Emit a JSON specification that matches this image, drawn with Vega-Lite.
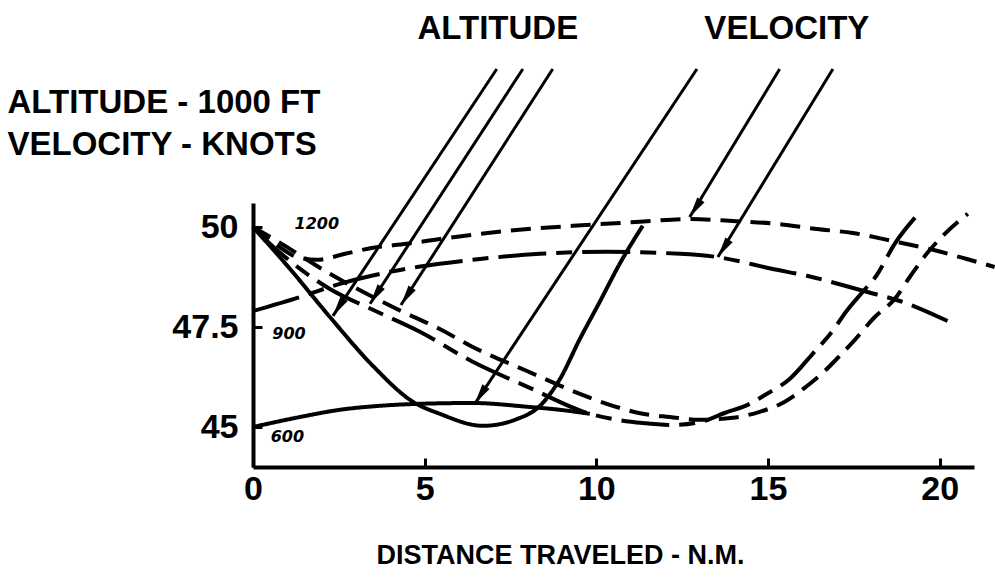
{
  "$schema": "https://vega.github.io/schema/vega-lite/v6.json",
  "width": 721,
  "height": 264,
  "autosize": {"type": "none"},
  "padding": {"left": 253, "top": 203, "right": 21, "bottom": 120},
  "background": "white",
  "config": {"view": {"stroke": null}},
  "datasets": {
    "curves": [
      {"curve": "altitude 600", "trajectory": "600", "x": 0, "y": 50},
      {"curve": "altitude 600", "trajectory": "600", "x": 1.08, "y": 48.95},
      {"curve": "altitude 600", "trajectory": "600", "x": 2.24, "y": 47.75},
      {"curve": "altitude 600", "trajectory": "600", "x": 3.49, "y": 46.53},
      {"curve": "altitude 600", "trajectory": "600", "x": 4.66, "y": 45.63},
      {"curve": "altitude 600", "trajectory": "600", "x": 5.44, "y": 45.33},
      {"curve": "altitude 600", "trajectory": "600", "x": 6.7, "y": 45.03},
      {"curve": "altitude 600", "trajectory": "600", "x": 7.69, "y": 45.2},
      {"curve": "altitude 600", "trajectory": "600", "x": 8.36, "y": 45.53},
      {"curve": "altitude 600", "trajectory": "600", "x": 8.94, "y": 46.2},
      {"curve": "altitude 600", "trajectory": "600", "x": 9.52, "y": 47.2},
      {"curve": "altitude 600", "trajectory": "600", "x": 10.1, "y": 48.13},
      {"curve": "altitude 600", "trajectory": "600", "x": 10.68, "y": 49.08},
      {"curve": "altitude 600", "trajectory": "600", "x": 11.35, "y": 50.03},

      {"curve": "velocity 600", "trajectory": "600", "x": 0, "y": 45.0},
      {"curve": "velocity 600", "trajectory": "600", "x": 1.37, "y": 45.25},
      {"curve": "velocity 600", "trajectory": "600", "x": 2.53, "y": 45.43},
      {"curve": "velocity 600", "trajectory": "600", "x": 3.7, "y": 45.53},
      {"curve": "velocity 600", "trajectory": "600", "x": 4.86, "y": 45.58},
      {"curve": "velocity 600", "trajectory": "600", "x": 6.4, "y": 45.6},
      {"curve": "velocity 600", "trajectory": "600", "x": 8.06, "y": 45.5},
      {"curve": "velocity 600", "trajectory": "600", "x": 8.94, "y": 45.43},
      {"curve": "velocity 600", "trajectory": "600", "x": 9.81, "y": 45.33},

      {"curve": "velocity 900", "trajectory": "900", "x": 0, "y": 47.9},
      {"curve": "velocity 900", "trajectory": "900", "x": 1.37, "y": 48.25},
      {"curve": "velocity 900", "trajectory": "900", "x": 2.53, "y": 48.58},
      {"curve": "velocity 900", "trajectory": "900", "x": 3.99, "y": 48.88},
      {"curve": "velocity 900", "trajectory": "900", "x": 5.44, "y": 49.08},
      {"curve": "velocity 900", "trajectory": "900", "x": 6.61, "y": 49.2},
      {"curve": "velocity 900", "trajectory": "900", "x": 8.36, "y": 49.33},
      {"curve": "velocity 900", "trajectory": "900", "x": 10.31, "y": 49.38},
      {"curve": "velocity 900", "trajectory": "900", "x": 12.43, "y": 49.33},
      {"curve": "velocity 900", "trajectory": "900", "x": 13.51, "y": 49.25},
      {"curve": "velocity 900", "trajectory": "900", "x": 15.14, "y": 48.95},
      {"curve": "velocity 900", "trajectory": "900", "x": 16.13, "y": 48.78},
      {"curve": "velocity 900", "trajectory": "900", "x": 17.87, "y": 48.38},
      {"curve": "velocity 900", "trajectory": "900", "x": 18.84, "y": 48.15},
      {"curve": "velocity 900", "trajectory": "900", "x": 20.23, "y": 47.65},

      {"curve": "velocity 1200", "trajectory": "1200", "x": 0, "y": 50},
      {"curve": "velocity 1200", "trajectory": "1200", "x": 0.64, "y": 49.58},
      {"curve": "velocity 1200", "trajectory": "1200", "x": 1.28, "y": 49.25},
      {"curve": "velocity 1200", "trajectory": "1200", "x": 1.86, "y": 49.18},
      {"curve": "velocity 1200", "trajectory": "1200", "x": 2.68, "y": 49.33},
      {"curve": "velocity 1200", "trajectory": "1200", "x": 3.49, "y": 49.48},
      {"curve": "velocity 1200", "trajectory": "1200", "x": 4.48, "y": 49.58},
      {"curve": "velocity 1200", "trajectory": "1200", "x": 5.44, "y": 49.7},
      {"curve": "velocity 1200", "trajectory": "1200", "x": 7.39, "y": 49.9},
      {"curve": "velocity 1200", "trajectory": "1200", "x": 9.32, "y": 50.03},
      {"curve": "velocity 1200", "trajectory": "1200", "x": 11.27, "y": 50.13},
      {"curve": "velocity 1200", "trajectory": "1200", "x": 12.72, "y": 50.2},
      {"curve": "velocity 1200", "trajectory": "1200", "x": 13.97, "y": 50.15},
      {"curve": "velocity 1200", "trajectory": "1200", "x": 15.25, "y": 50.08},
      {"curve": "velocity 1200", "trajectory": "1200", "x": 16.42, "y": 49.95},
      {"curve": "velocity 1200", "trajectory": "1200", "x": 17.47, "y": 49.85},
      {"curve": "velocity 1200", "trajectory": "1200", "x": 18.63, "y": 49.65},
      {"curve": "velocity 1200", "trajectory": "1200", "x": 19.8, "y": 49.43},
      {"curve": "velocity 1200", "trajectory": "1200", "x": 20.79, "y": 49.2},
      {"curve": "velocity 1200", "trajectory": "1200", "x": 21.6, "y": 49.0},

      {"curve": "altitude 900", "trajectory": "900", "x": 0, "y": 50},
      {"curve": "altitude 900", "trajectory": "900", "x": 0.49, "y": 49.58},
      {"curve": "altitude 900", "trajectory": "900", "x": 1.08, "y": 49.15},
      {"curve": "altitude 900", "trajectory": "900", "x": 2.24, "y": 48.45},
      {"curve": "altitude 900", "trajectory": "900", "x": 3.49, "y": 47.93},
      {"curve": "altitude 900", "trajectory": "900", "x": 4.86, "y": 47.38},
      {"curve": "altitude 900", "trajectory": "900", "x": 6.4, "y": 46.63},
      {"curve": "altitude 900", "trajectory": "900", "x": 8.06, "y": 45.98},
      {"curve": "altitude 900", "trajectory": "900", "x": 9.81, "y": 45.33},
      {"curve": "altitude 900", "trajectory": "900", "x": 10.48, "y": 45.2},
      {"curve": "altitude 900", "trajectory": "900", "x": 11.35, "y": 45.1},
      {"curve": "altitude 900", "trajectory": "900", "x": 12.23, "y": 45.05},
      {"curve": "altitude 900", "trajectory": "900", "x": 13.01, "y": 45.12},
      {"curve": "altitude 900", "trajectory": "900", "x": 13.74, "y": 45.35},
      {"curve": "altitude 900", "trajectory": "900", "x": 14.47, "y": 45.58},
      {"curve": "altitude 900", "trajectory": "900", "x": 14.91, "y": 45.8},
      {"curve": "altitude 900", "trajectory": "900", "x": 15.63, "y": 46.2},
      {"curve": "altitude 900", "trajectory": "900", "x": 16.3, "y": 46.83},
      {"curve": "altitude 900", "trajectory": "900", "x": 16.86, "y": 47.38},
      {"curve": "altitude 900", "trajectory": "900", "x": 17.29, "y": 47.9},
      {"curve": "altitude 900", "trajectory": "900", "x": 17.76, "y": 48.38},
      {"curve": "altitude 900", "trajectory": "900", "x": 18.17, "y": 48.8},
      {"curve": "altitude 900", "trajectory": "900", "x": 18.69, "y": 49.58},
      {"curve": "altitude 900", "trajectory": "900", "x": 19.33, "y": 50.28},

      {"curve": "altitude 1200", "trajectory": "1200", "x": 0, "y": 50},
      {"curve": "altitude 1200", "trajectory": "1200", "x": 0.7, "y": 49.65},
      {"curve": "altitude 1200", "trajectory": "1200", "x": 2.24, "y": 48.83},
      {"curve": "altitude 1200", "trajectory": "1200", "x": 4.19, "y": 47.95},
      {"curve": "altitude 1200", "trajectory": "1200", "x": 5.44, "y": 47.45},
      {"curve": "altitude 1200", "trajectory": "1200", "x": 6.4, "y": 47.0},
      {"curve": "altitude 1200", "trajectory": "1200", "x": 7.98, "y": 46.4},
      {"curve": "altitude 1200", "trajectory": "1200", "x": 9.52, "y": 45.83},
      {"curve": "altitude 1200", "trajectory": "1200", "x": 10.48, "y": 45.53},
      {"curve": "altitude 1200", "trajectory": "1200", "x": 11.35, "y": 45.33},
      {"curve": "altitude 1200", "trajectory": "1200", "x": 12.14, "y": 45.25},
      {"curve": "altitude 1200", "trajectory": "1200", "x": 13.01, "y": 45.18},
      {"curve": "altitude 1200", "trajectory": "1200", "x": 13.97, "y": 45.23},
      {"curve": "altitude 1200", "trajectory": "1200", "x": 14.76, "y": 45.38},
      {"curve": "altitude 1200", "trajectory": "1200", "x": 15.49, "y": 45.63},
      {"curve": "altitude 1200", "trajectory": "1200", "x": 16.1, "y": 46.0},
      {"curve": "altitude 1200", "trajectory": "1200", "x": 16.59, "y": 46.35},
      {"curve": "altitude 1200", "trajectory": "1200", "x": 17.09, "y": 46.78},
      {"curve": "altitude 1200", "trajectory": "1200", "x": 17.53, "y": 47.18},
      {"curve": "altitude 1200", "trajectory": "1200", "x": 18.11, "y": 47.75},
      {"curve": "altitude 1200", "trajectory": "1200", "x": 18.69, "y": 48.2},
      {"curve": "altitude 1200", "trajectory": "1200", "x": 19.13, "y": 48.75},
      {"curve": "altitude 1200", "trajectory": "1200", "x": 19.62, "y": 49.33},
      {"curve": "altitude 1200", "trajectory": "1200", "x": 20.15, "y": 49.83},
      {"curve": "altitude 1200", "trajectory": "1200", "x": 20.82, "y": 50.33}
    ],
    "arrows": [
      {"group": "ALTITUDE", "target": "altitude 600", "x": 7.1, "y": 53.95, "x2": 2.33, "y2": 47.78},
      {"group": "ALTITUDE", "target": "altitude 900", "x": 7.86, "y": 53.95, "x2": 3.41, "y2": 48.08},
      {"group": "ALTITUDE", "target": "altitude 1200", "x": 8.73, "y": 53.95, "x2": 4.31, "y2": 48.05},
      {"group": "VELOCITY", "target": "velocity 600", "x": 12.93, "y": 53.95, "x2": 6.46, "y2": 45.58},
      {"group": "VELOCITY", "target": "velocity 1200", "x": 15.34, "y": 53.95, "x2": 12.72, "y2": 50.25},
      {"group": "VELOCITY", "target": "velocity 900", "x": 16.89, "y": 53.95, "x2": 13.54, "y2": 49.25}
    ],
    "headers": [
      {"text": "ALTITUDE", "x": 7.13, "y": 54.95},
      {"text": "VELOCITY", "x": 15.55, "y": 54.95}
    ],
    "scaleLabels": [
      {"text": "1200", "x": 1.86, "y": 50.08},
      {"text": "900", "x": 1.05, "y": 47.33},
      {"text": "600", "x": 1.0, "y": 44.75}
    ]
  },
  "encoding": {
    "x": {
      "field": "x", "type": "quantitative",
      "scale": {"domain": [0, 21], "nice": false, "zero": false},
      "axis": {
        "values": [0, 5, 10, 15, 20],
        "grid": false,
        "domainColor": "black", "domainWidth": 4,
        "tickColor": "black", "tickWidth": 3, "tickSize": -9,
        "labelFont": "Liberation Sans, Arial, sans-serif",
        "labelFontSize": 34, "labelFontWeight": "bold", "labelColor": "black",
        "labelPadding": 14, "labelFlush": false, "labelOverlap": false,
        "title": "DISTANCE TRAVELED - N.M.",
        "titleFont": "Liberation Sans, Arial, sans-serif",
        "titleFontSize": 27, "titleFontWeight": "bold", "titleColor": "black",
        "titleAnchor": "start", "titleAlign": "center", "titleBaseline": "middle",
        "titleX": 307, "titleY": 88
      }
    },
    "y": {
      "field": "y", "type": "quantitative",
      "scale": {"domain": [44, 50.6], "nice": false, "zero": false},
      "axis": {
        "values": [45, 47.5, 50],
        "labelExpr": "'' + datum.value",
        "grid": false,
        "domainColor": "black", "domainWidth": 4,
        "tickColor": "black", "tickWidth": 3, "tickSize": -9,
        "labelFont": "Liberation Sans, Arial, sans-serif",
        "labelFontSize": 34, "labelFontWeight": "bold", "labelColor": "black",
        "labelPadding": 24, "labelFlush": false, "labelOverlap": false,
        "title": ["ALTITUDE - 1000 FT", "VELOCITY - KNOTS"],
        "titleFont": "Liberation Sans, Arial, sans-serif",
        "titleFontSize": 33, "titleFontWeight": "bold", "titleColor": "black",
        "titleAngle": 0, "titleAlign": "left", "titleBaseline": "top",
        "titleAnchor": "start", "titleLineHeight": 42,
        "titleX": -246, "titleY": -117
      }
    }
  },
  "layer": [
    {
      "data": {"name": "curves"},
      "mark": {"type": "line", "interpolate": "monotone", "strokeWidth": 4, "color": "black", "strokeCap": "butt"},
      "encoding": {
        "detail": {"field": "curve"},
        "strokeDash": {
          "field": "trajectory", "type": "nominal",
          "scale": {"domain": ["600", "900", "1200"], "range": [[1, 0], [48, 10, 16, 10], [20, 10]]},
          "legend": null
        }
      }
    },
    {
      "data": {"name": "arrows"},
      "mark": {"type": "rule", "strokeWidth": 3, "color": "black"},
      "encoding": {
        "x2": {"field": "x2"},
        "y2": {"field": "y2"}
      }
    },
    {
      "data": {"name": "arrows"},
      "mark": {"type": "point", "filled": true, "opacity": 1, "color": "black", "size": 420, "angle": 33, "shape": "M -0.42 -2 L 0.42 -2 L 0 0 Z"},
      "encoding": {
        "x": {"field": "x2", "type": "quantitative"},
        "y": {"field": "y2", "type": "quantitative"}
      }
    },
    {
      "data": {"name": "headers"},
      "mark": {"type": "text", "font": "Liberation Sans, Arial, sans-serif", "fontSize": 33, "fontWeight": "bold", "color": "black", "align": "center", "baseline": "middle"},
      "encoding": {"text": {"field": "text"}}
    },
    {
      "data": {"name": "scaleLabels"},
      "mark": {"type": "text", "font": "DejaVu Sans", "fontSize": 16, "fontWeight": "bold", "fontStyle": "italic", "color": "black", "align": "center", "baseline": "middle"},
      "encoding": {"text": {"field": "text"}}
    }
  ]
}
